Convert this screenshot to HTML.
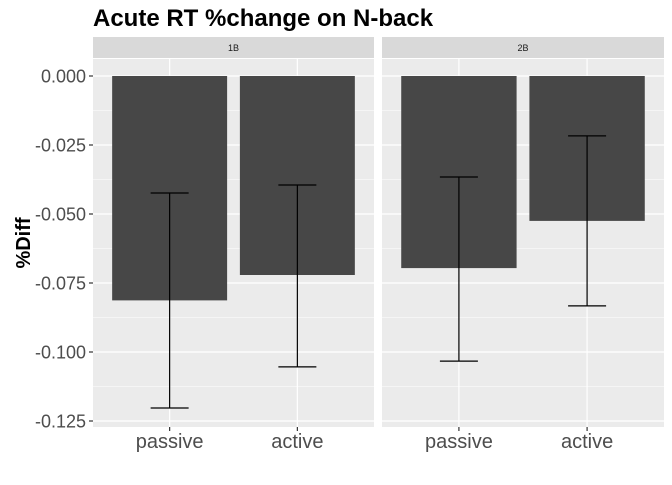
<!DOCTYPE html>
<html><head><meta charset="utf-8"><style>
body{margin:0;background:#fff}
svg text{font-family:"Liberation Sans",Arial,sans-serif}
</style></head><body>
<svg id="chart" width="672" height="480" viewBox="0 0 672 480">
<text x="93" y="26" font-size="24" font-weight="bold" fill="#000">Acute RT %change on N-back</text>
<text transform="translate(30,243) rotate(-90)" text-anchor="middle" font-size="20" font-weight="bold">%Diff</text>
<g id="g"></g>
</svg>
<script>
const facets=["1B","2B"];
const categories=["passive","active"];
const means=[[-0.0813,-0.0721],[-0.0696,-0.0525]];
const lowers=[[-0.1203,-0.1054],[-0.1033,-0.0833]];
const uppers=[[-0.0424,-0.0395],[-0.0366,-0.0217]];
const yTicks=[0,-0.025,-0.05,-0.075,-0.1,-0.125];
const yTickLabels=["0.000","-0.025","-0.050","-0.075","-0.100","-0.125"];

const NS="http://www.w3.org/2000/svg";
const g=document.getElementById("g");
function mk(t,a,p){const e=document.createElementNS(NS,t);for(const k in a)e.setAttribute(k,a[k]);(p||g).appendChild(e);return e;}
const plotTop=59,plotBottom=427;
const y=v=>76-v*2760;
const panels=[{x0:93,x1:374},{x0:382,x1:664}];
facets.forEach((f,fi)=>{
  const P=panels[fi],w=P.x1-P.x0;
  const grp=mk("g",{});
  
  
  const bg=mk("rect",{x:P.x0,y:plotTop,width:w,height:plotBottom-plotTop,fill:"#EBEBEB"},grp);
  
  
  const st=mk("rect",{x:P.x0,y:37,width:w,height:21,fill:"#D9D9D9"},grp);
  
  
  const stt=mk("text",{x:P.x0+w/2,y:51,"text-anchor":"middle","font-size":"9",fill:"#1A1A1A"},grp);
  stt.textContent=f;
  
  
  for(let i=0;i<yTicks.length-1;i++){
    const m=(yTicks[i]+yTicks[i+1])/2;
    mk("line",{x1:P.x0,x2:P.x1,y1:y(m),y2:y(m),stroke:"#fff","stroke-width":0.6},grp);
  }
  yTicks.forEach(t=>mk("line",{x1:P.x0,x2:P.x1,y1:y(t),y2:y(t),stroke:"#fff","stroke-width":1.2},grp));
  const center=i=>P.x0+w*(0.6+i)/2.2;
  categories.forEach((c,i)=>{
    const c0=center(i);
    mk("line",{x1:c0,x2:c0,y1:plotTop,y2:plotBottom,stroke:"#fff","stroke-width":1.2},grp);
  });
  categories.forEach((c,i)=>{
    const c0=center(i),bw=w*0.9/2.2;
    const b=mk("rect",{x:c0-bw/2,y:y(0),width:bw,height:y(means[fi][i])-y(0),fill:"#474747"},grp);
    
    
    const eg=mk("g",{stroke:"#000","stroke-width":1.2},grp);
    
    
    mk("line",{x1:c0,x2:c0,y1:y(uppers[fi][i]),y2:y(lowers[fi][i])},eg);
    mk("line",{x1:c0-19,x2:c0+19,y1:y(uppers[fi][i]),y2:y(uppers[fi][i])},eg);
    mk("line",{x1:c0-19,x2:c0+19,y1:y(lowers[fi][i]),y2:y(lowers[fi][i])},eg);
    mk("line",{x1:c0,x2:c0,y1:plotBottom,y2:plotBottom+4,stroke:"#333","stroke-width":1.2},grp);
    const xl=mk("text",{x:c0,y:448,"text-anchor":"middle","font-size":"20",fill:"#4D4D4D"},grp);
    xl.textContent=c;
    
    
  });
});
yTicks.forEach((t,i)=>{
  mk("line",{x1:89,x2:93,y1:y(t),y2:y(t),stroke:"#333","stroke-width":1.2});
  const l=mk("text",{x:86,y:y(t)+6.5,"text-anchor":"end","font-size":"18",fill:"#4D4D4D"});
  l.textContent=yTickLabels[i];
  
  
});
</script>
</body></html>
